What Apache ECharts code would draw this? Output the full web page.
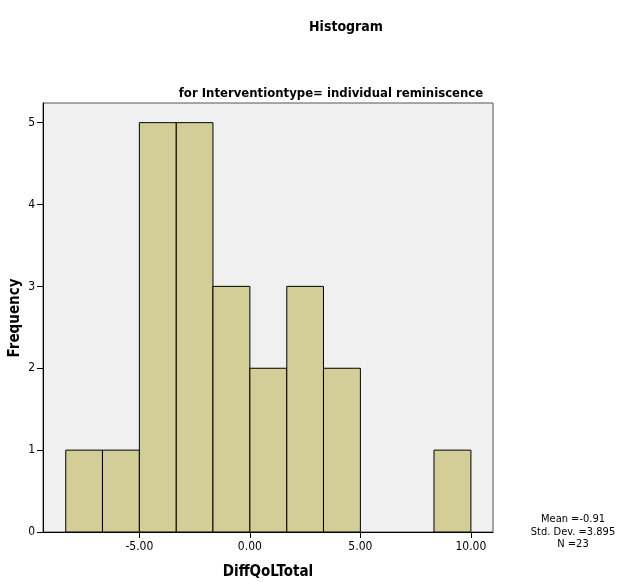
<!DOCTYPE html>
<html>
<head>
<meta charset="utf-8">
<script src="https://cdn.jsdelivr.net/npm/echarts@6/dist/echarts.min.js"></script>
<style>
  html, body { margin: 0; padding: 0; background: #fff; }
  #chart { width: 624px; height: 582px; }
</style>
</head>
<body>
<div id="chart"></div>
<script>
// Histogram of DiffQoLTotal, individual reminiscence group
const binEdges = [-8.33, -6.67, -5.00, -3.33, -1.67, 0.00, 1.67, 3.33, 5.00, 6.67, 8.33, 10.00];
const counts = [1, 1, 5, 5, 3, 2, 3, 2, 0, 0, 1];
const xTicks = [-5, 0, 5, 10];
const yTicks = [0, 1, 2, 3, 4, 5];
const statLines = ['Mean =-0.91', 'Std. Dev. =3.895', 'N =23'];

const FONT = '"Liberation Sans Narrow", "DejaVu Sans Condensed", "Liberation Sans", sans-serif';

const barData = counts.map((c, i) => [binEdges[i], binEdges[i + 1], c]);

const statsText = statLines.map((s, i) => ({
  type: 'text',
  x: 573, y: 514 + i * 12.5,
  style: { text: s, fontFamily: FONT, fontSize: 11, fill: '#000', align: 'center' }
}));

// vertical axis title, placed by hand so it sits close to the tick labels
const yTitle = {
  type: 'text',
  x: 15, y: 318, rotation: Math.PI / 2,
  style: {
    text: 'Frequency', fontFamily: FONT, fontSize: 15, fontWeight: 'bold',
    fill: '#000', align: 'center', verticalAlign: 'middle'
  }
};

const chart = echarts.init(document.getElementById('chart'), null, { renderer: 'canvas' });
chart.setOption({
  animation: false,
  backgroundColor: '#ffffff',
  title: [
    {
      text: 'Histogram',
      left: 341, top: 15, textAlign: 'center',
      textStyle: { fontFamily: FONT, fontSize: 14, fontWeight: 'bold', color: '#000' }
    },
    {
      text: 'for Interventiontype= individual reminiscence',
      left: 326, top: 82, textAlign: 'center',
      textStyle: { fontFamily: FONT, fontSize: 13, fontWeight: 'bold', color: '#000' }
    }
  ],
  graphic: statsText.concat([yTitle]),
  grid: {
    left: 43, right: 131, top: 103, bottom: 50,
    outerBoundsMode: 'none', containLabel: false,
    show: true, backgroundColor: '#f0f0f0', borderColor: '#555', borderWidth: 1
  },
  xAxis: {
    type: 'value',
    min: -9.36, max: 11.0,
    name: 'DiffQoLTotal', nameLocation: 'middle', nameGap: 33,
    nameTextStyle: { fontFamily: FONT, fontSize: 15, fontWeight: 'bold', color: '#000' },
    splitLine: { show: false },
    axisLine: { show: true, onZero: false, lineStyle: { color: '#000', width: 1 } },
    axisTick: { show: true, inside: false, length: 6, customValues: xTicks, lineStyle: { color: '#000' } },
    axisLabel: {
      customValues: xTicks, margin: 9,
      fontFamily: FONT, fontSize: 12, color: '#000',
      formatter: v => v.toFixed(2)
    }
  },
  yAxis: {
    type: 'value',
    min: 0, max: 5.24,
    splitLine: { show: false },
    axisLine: { show: true, onZero: false, lineStyle: { color: '#000', width: 1 } },
    axisTick: { show: true, inside: false, length: 6, customValues: yTicks, lineStyle: { color: '#000' } },
    axisLabel: {
      customValues: yTicks, margin: 8,
      fontFamily: FONT, fontSize: 12, color: '#000'
    }
  },
  series: [{
    type: 'custom',
    data: barData,
    encode: { x: [0, 1], y: 2 },
    renderItem: function (params, api) {
      const h = api.value(2);
      if (!h) return null;
      const p0 = api.coord([api.value(0), h]);
      const p1 = api.coord([api.value(1), 0]);
      return {
        type: 'rect',
        shape: { x: p0[0], y: p0[1], width: p1[0] - p0[0], height: p1[1] - p0[1] },
        style: { fill: '#d3ce97', stroke: '#000', lineWidth: 1 }
      };
    }
  }]
});
</script>
</body>
</html>
